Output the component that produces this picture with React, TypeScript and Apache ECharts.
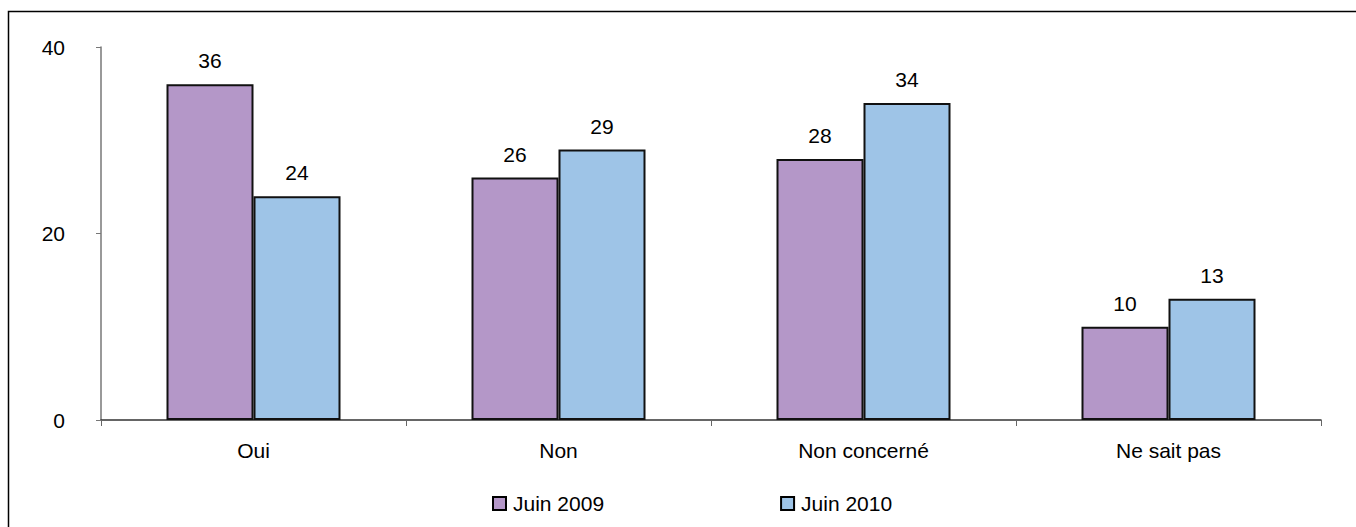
import React, { useEffect, useRef } from "react";
import * as echarts from "echarts";

const categories = ["Oui", "Non", "Non concerné", "Ne sait pas"];
const juin2009 = [36, 26, 28, 10];
const juin2010 = [24, 29, 34, 13];
const seriesNames = ["Juin 2009", "Juin 2010"];
const yTicks = { min: 0, max: 40, interval: 20 };

const FONT = "'Liberation Sans', Arial, sans-serif";
const FONT_SIZE = 21;
const PURPLE = "#B497C8";
const BLUE = "#9EC4E7";

export default function App() {
  const ref = useRef<HTMLDivElement>(null);

  useEffect(() => {
    if (!ref.current) return;
    const chart = echarts.init(ref.current, null, { renderer: "svg" });

    const barSeries = (name: string, data: number[], color: string) => ({
      name,
      type: "bar",
      data,
      barWidth: 87,
      barGap: "0%",
      itemStyle: { color, borderColor: "#111", borderWidth: 2 },
      label: {
        show: true,
        position: "top",
        distance: 13,
        color: "#000",
        fontFamily: FONT,
        fontSize: FONT_SIZE,
      },
    });

    chart.setOption({
      animation: false,
      backgroundColor: "#fff",
      textStyle: { fontFamily: FONT },
      graphic: [
        {
          type: "rect",
          left: 6,
          top: 9,
          shape: { width: 1400, height: 600 },
          style: { fill: "none", stroke: "#000", lineWidth: 1.5 },
          silent: true,
        },
      ],
      grid: { left: 101, right: 35, top: 47, bottom: 107 },
      legend: {
        left: 487,
        top: 488,
        itemWidth: 13,
        itemHeight: 13,
        itemGap: 176,
        icon: "rect",
        itemStyle: { borderColor: "#000", borderWidth: 2 },
        textStyle: { color: "#000", fontFamily: FONT, fontSize: FONT_SIZE, padding: [0, 0, 0, 2] },
        data: seriesNames,
      },
      xAxis: {
        type: "category",
        data: categories,
        axisLine: { lineStyle: { color: "#333", width: 1.5 } },
        axisTick: { show: true, length: 6, lineStyle: { color: "#666" } },
        axisLabel: { color: "#000", fontFamily: FONT, fontSize: FONT_SIZE, margin: 20 },
      },
      yAxis: {
        type: "value",
        min: yTicks.min,
        max: yTicks.max,
        interval: yTicks.interval,
        splitLine: { show: false },
        axisLine: { show: true, lineStyle: { color: "#777", width: 1.5 } },
        axisTick: { show: true, length: 5, lineStyle: { color: "#777" } },
        axisLabel: { color: "#000", fontFamily: FONT, fontSize: FONT_SIZE, margin: 36 },
      },
      series: [
        barSeries(seriesNames[0], juin2009, PURPLE),
        barSeries(seriesNames[1], juin2010, BLUE),
      ],
    });

    return () => chart.dispose();
  }, []);

  return (
    <div
      ref={ref}
      style={{ position: "fixed", left: 0, top: 0, width: 1356, height: 527 }}
    />
  );
}
